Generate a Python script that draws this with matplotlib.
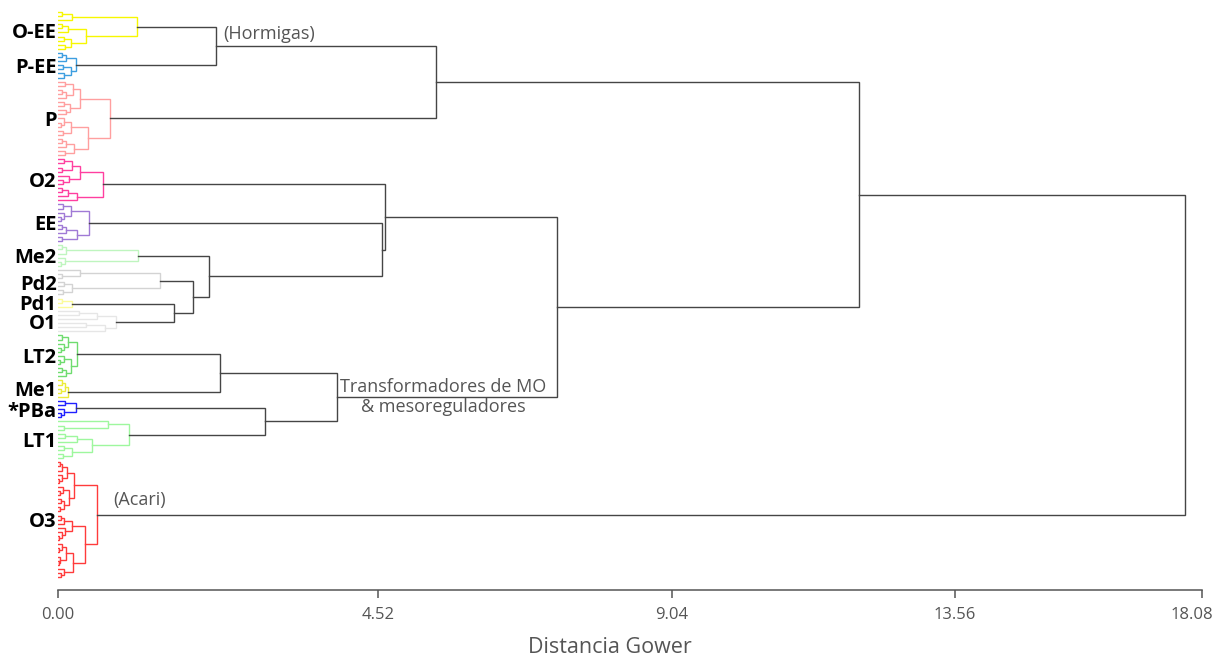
import numpy as np
import matplotlib.pyplot as plt
from matplotlib.scale import FuncScale
from matplotlib.transforms import ScaledTranslation

plt.rcParams['font.family'] = ['Open Sans', 'DejaVu Sans']

# subtrees inside each group: [height, upper, lower], a leaf is 0
o_ee = [1.12, [0.20, [0.06, 0, 0], 0],
        [0.40, [0.14, [0.05, 0, 0], 0], [0.18, [0.08, 0, 0], [0.10, 0, 0]]]]
p_ee = [0.25, [0.12, [0.05, 0, 0], 0], [0.18, [0.07, 0, 0], [0.09, 0, 0]]]
p = [0.73,
     [0.31, [0.21, [0.10, 0, 0], [0.12, [0.05, 0, 0], 0]],
      [0.17, [0.08, 0, 0], [0.11, 0, 0]]],
     [0.42, [0.19, [0.09, 0, [0.04, 0, 0]], [0.07, 0, 0]],
      [0.23, [0.12, [0.06, 0, 0], 0], [0.10, 0, 0]]]]
o2 = [0.64, [0.31, [0.20, [0.08, 0, 0], [0.05, 0, 0]], [0.15, 0, [0.07, 0, 0]]],
      [0.27, [0.14, [0.06, 0, 0], 0], 0]]
ee = [0.44, [0.18, [0.07, 0, 0], [0.09, 0, [0.04, 0, 0]]],
      [0.27, [0.12, [0.05, 0, 0], 0], [0.06, 0, 0]]]
me2 = [1.13, [0.12, [0.05, 0, 0], 0], [0.10, 0, [0.04, 0, 0]]]
pd2 = [1.44, [0.31, 0, [0.05, 0, 0]], [0.20, [0.09, 0, 0], [0.07, 0, 0]]]
pd1 = [0.20, [0.06, 0, 0], 0]
o1 = [0.82, [0.55, [0.30, 0, 0], 0], [0.66, [0.40, 0, 0], 0]]
lt2 = [0.27, [0.14, [0.06, 0, 0], [0.08, 0, [0.04, 0, 0]]],
       [0.19, [0.09, 0, [0.03, 0, 0]], [0.11, [0.05, 0, 0], 0]]]
me1 = [0.14, [0.10, [0.05, 0, 0], [0.04, 0, 0]], 0]
pba = [0.25, [0.10, 0, 0], [0.08, 0, [0.04, 0, 0]]]
lt1 = [1.00, [0.71, 0, [0.08, 0, 0]],
       [0.48, [0.27, [0.10, 0, 0], 0], [0.20, [0.09, 0, 0], [0.07, 0, 0]]]]
o3 = [0.55,
      [0.23, [0.13, [0.06, [0.03, 0, 0], 0], [0.05, 0, [0.02, 0, 0]]],
       [0.15, [0.07, 0, [0.03, 0, 0]], [0.08, [0.04, 0, 0], [0.03, 0, 0]]]],
      [0.38, [0.20, [0.09, [0.04, 0, 0], 0], [0.10, 0, [0.05, 0, [0.02, 0, 0]]]],
       [0.21, [0.11, [0.05, 0, [0.02, 0, 0]], [0.03, 0, [0.02, 0, 0]]],
        [0.09, 0, [0.04, 0, 0]]]]]

groups = {
    'O-EE': (o_ee, '#f7f700'),
    'P-EE': (p_ee, '#3d9ee0'),
    'P': (p, '#ff9f9f'),
    'O2': (o2, '#ff3fa0'),
    'EE': (ee, '#a07ad6'),
    'Me2': (me2, '#bff5bf'),
    'Pd2': (pd2, '#d3d3d3'),
    'Pd1': (pd1, '#fbfb9a'),
    'O1': (o1, '#e6e6e6'),
    'LT2': (lt2, '#6fdc6f'),
    'Me1': (me1, '#ecec3a'),
    '*PBa': (pba, '#2020ff'),
    'LT1': (lt1, '#9ef79e'),
    'O3': (o3, '#ff3b3b'),
}

# joins between groups (Gower distance)
tree = [17.77,
        [12.03,
         [5.41, [2.23, 'O-EE', 'P-EE'], 'P'],
         [7.27,
          [4.63, 'O2', [4.58, 'EE', [2.13, 'Me2', [1.91, 'Pd2', [1.64, 'Pd1', 'O1']]]]],
          [3.94, [2.29, 'LT2', 'Me1'], [2.92, '*PBa', 'LT1']]]],
        'O3']

tick_vals = [0.00, 4.52, 9.04, 13.56, 18.08]
tick_pos = [0.0, 0.2797, 0.5367, 0.7841, 1.0]

fig = plt.figure(figsize=(12.16, 6.57), dpi=100)
ax = fig.add_axes([58 / 1216, 67 / 657, 1144 / 1216, 590 / 657])

# stretched distance axis
xv = np.r_[-100.0, tick_vals, 100.0]
xp = np.r_[-100.0 * 0.2797 / 4.52, tick_pos, 1.0 + (100.0 - 18.08) * 0.2159 / 4.52]
ax.set_xscale(FuncScale(ax, (lambda v: np.interp(v, xv, xp),
                             lambda q: np.interp(q, xp, xv))))

leaf_count = [0]
label_pos = {}
node_y = {}


def draw(node, color):
    if isinstance(node, str):
        sub, c = groups[node]
        first = leaf_count[0]
        y, h = draw(sub, c)
        label_pos[node] = (first + leaf_count[0] - 1) / 2
        node_y[node] = y
        return y, h
    if node == 0:
        y = leaf_count[0]
        leaf_count[0] += 1
        return y, 0.0
    h, a, b = node
    y1, h1 = draw(a, color)
    y2, h2 = draw(b, color)
    ax.plot([h1, h, h, h2], [y1, y1, y2, y2], color=color, lw=1.0,
            solid_joinstyle='miter')
    node_y[h] = (y1 + y2) / 2
    return (y1 + y2) / 2, h


draw(tree, '#454545')
n = leaf_count[0]
step = 565 / (n - 1)
ax.set_ylim(n - 1 + 13 / step, -12 / step)
ax.set_xlim(0, 18.08)

names = list(label_pos)
ax.set_yticks([label_pos[k] for k in names])
ax.set_yticklabels(names, fontsize=14.5, fontweight='bold', color='black')
ax.tick_params(axis='y', length=0, pad=1)

ax.set_xticks(tick_vals)
ax.set_xticklabels([f'{v:.2f}' for v in tick_vals], fontsize=12, color='#555555')
ax.tick_params(axis='x', length=6, width=1.1, color='#555555', pad=6)
last = ax.get_xticklabels()[-1]
last.set_transform(last.get_transform() + ScaledTranslation(-10 / 100, 0, fig.dpi_scale_trans))
ax.set_xlabel('Distancia Gower', fontsize=15.5, color='#555555', labelpad=10,
              x=(610 - 58) / 1144)

for s in ['top', 'right', 'left']:
    ax.spines[s].set_visible(False)
ax.spines['bottom'].set_color('#555555')
ax.spines['bottom'].set_linewidth(1.1)

txt = dict(fontsize=13, color='#555555')
ax.annotate('(Hormigas)', xy=(2.23, node_y[2.23]), xytext=(5, 2),
            textcoords='offset points', ha='left', va='bottom', **txt)
ax.annotate('(Acari)', xy=(0.55, node_y['O3']), xytext=(12, 4),
            textcoords='offset points', ha='left', va='bottom', **txt)
ax.annotate('Transformadores de MO\n& mesoreguladores', xy=(7.27, node_y[3.94]),
            xytext=(-82, 0), textcoords='offset points', ha='center', va='center',
            multialignment='center', linespacing=1.15, **txt)

fig.savefig('out.png', dpi=100)
